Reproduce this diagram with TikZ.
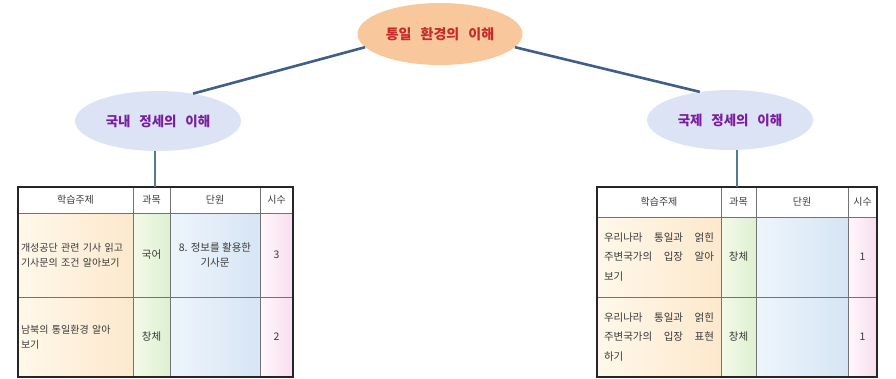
\documentclass[tikz,border=0pt]{standalone}
\usepackage{fontspec}
\setmainfont{Noto Sans CJK KR}
\usetikzlibrary{shapes.geometric}
\usetikzlibrary{positioning}
\definecolor{rootfill}{HTML}{F8C89C}
\definecolor{rootred}{HTML}{C62A2A}
\definecolor{subfill}{HTML}{DCE3F5}
\definecolor{subpurple}{HTML}{7A1FA0}
\definecolor{linkblue}{HTML}{3F5F88}
\definecolor{stemblue}{HTML}{527A96}
\definecolor{cellink}{HTML}{3A3A3A}
\definecolor{topicL}{HTML}{FFF8EA}
\definecolor{topicR}{HTML}{FDE8CD}
\definecolor{subjL}{HTML}{F4FAE8}
\definecolor{subjR}{HTML}{DDF0D2}
\definecolor{unitL}{HTML}{EEF5FC}
\definecolor{unitR}{HTML}{D6E5F4}
\definecolor{hourL}{HTML}{FFF7FB}
\definecolor{hourR}{HTML}{F8DDEF}
\newcommand{\widewords}{\spaceskip=0.65em\relax}
\tikzset{
    every node/.style={font=\fontsize{10.5}{15}\selectfont, text=cellink},
    main topic/.style={ellipse, fill=rootfill, text=rootred, minimum width=165pt, minimum height=62pt, font={\fontsize{14}{16}\selectfont\bfseries\widewords}},
    sub topic/.style={ellipse, fill=subfill, text=subpurple, minimum width=166pt, minimum height=60pt, font={\fontsize{13.5}{16}\selectfont\bfseries\widewords}},
    link/.style={draw=linkblue, line width=2.6pt},
    stem/.style={draw=stemblue, line width=2pt},
    cell/.style={draw=black!55, line width=0.5pt, inner sep=0pt, outer sep=0pt, align=center},
    head cell/.style={cell, fill=white, font=\fontsize{10}{12}\selectfont},
    topic cell/.style={cell, left color=topicL, right color=topicR, align=left, inner xsep=3pt, font=\fontsize{10}{15}\selectfont},
    wide topic/.style={topic cell, inner xsep=7pt, font=\fontsize{10.5}{19.5}\selectfont},
    subj cell/.style={cell, left color=subjL, right color=subjR},
    unit cell/.style={cell, left color=unitL, right color=unitR},
    hour cell/.style={cell, left color=hourL, right color=hourR},
    frame/.style={draw=black!85, line width=1.5pt}
}
\begin{document}
\begin{tikzpicture}[x=1pt, y=-1pt, node distance=0pt]
    \useasboundingbox (0,0) rectangle (896,378);

    % topic ellipses
    \node[main topic] (root) at (440,34) {통일 환경의 이해};
    \node[sub topic] (dom) at (158,121) {국내 정세의 이해};
    \node[sub topic] (intl) at (730,120) {국제 정세의 이해};

    \draw[link] (root.190) -- (dom.38);
    \draw[link] (root.-10) -- (intl.137);

    % left table
    \node[head cell, minimum width=115pt, minimum height=26pt, anchor=north west] (dh1) at (18,187) {학습주제};
    \node[head cell, minimum width=37pt, minimum height=26pt, right=of dh1] (dh2) {과목};
    \node[head cell, minimum width=90pt, minimum height=26pt, right=of dh2] (dh3) {단원};
    \node[head cell, minimum width=33pt, minimum height=26pt, right=of dh3] (dh4) {시수};

    \node[topic cell, text width=109pt, minimum height=84pt, below=of dh1] (d11) {개성공단 관련 기사 읽고\\기사문의 조건 알아보기};
    \node[subj cell, minimum width=37pt, minimum height=84pt, right=of d11] (d12) {국어};
    \node[unit cell, minimum width=90pt, minimum height=84pt, right=of d12] (d13) {8. 정보를 활용한\\기사문};
    \node[hour cell, minimum width=33pt, minimum height=84pt, right=of d13] (d14) {3};

    \node[topic cell, text width=109pt, minimum height=80pt, below=of d11] (d21) {남북의 통일환경 알아\\보기};
    \node[subj cell, minimum width=37pt, minimum height=80pt, right=of d21] (d22) {창체};
    \node[unit cell, minimum width=90pt, minimum height=80pt, right=of d22] (d23) {};
    \node[hour cell, minimum width=33pt, minimum height=80pt, right=of d23] (d24) {2};

    \draw[frame] (dh1.north west) rectangle (d24.south east);

    % right table
    \node[head cell, minimum width=124pt, minimum height=30pt, anchor=north west] (ih1) at (597,187) {학습주제};
    \node[head cell, minimum width=35pt, minimum height=30pt, right=of ih1] (ih2) {과목};
    \node[head cell, minimum width=92pt, minimum height=30pt, right=of ih2] (ih3) {단원};
    \node[head cell, minimum width=29pt, minimum height=30pt, right=of ih3] (ih4) {시수};

    \node[wide topic, text width=110pt, minimum height=80pt, below=of ih1] (i11) {우리나라\hfill 통일과\hfill 얽힌\\주변국가의\hfill 입장\hfill 알아\\보기};
    \node[subj cell, minimum width=35pt, minimum height=80pt, right=of i11] (i12) {창체};
    \node[unit cell, minimum width=92pt, minimum height=80pt, right=of i12] (i13) {};
    \node[hour cell, minimum width=29pt, minimum height=80pt, right=of i13] (i14) {1};

    \node[wide topic, text width=110pt, minimum height=80pt, below=of i11] (i21) {우리나라\hfill 통일과\hfill 얽힌\\주변국가의\hfill 입장\hfill 표현\\하기};
    \node[subj cell, minimum width=35pt, minimum height=80pt, right=of i21] (i22) {창체};
    \node[unit cell, minimum width=92pt, minimum height=80pt, right=of i22] (i23) {};
    \node[hour cell, minimum width=29pt, minimum height=80pt, right=of i23] (i24) {1};

    \draw[frame] (ih1.north west) rectangle (i24.south east);

    % stems from ellipses to tables
    \coordinate (dtop) at (155,187);
    \coordinate (itop) at (737,187);
    \draw[stem] (dom.south -| dtop) -- (dtop);
    \draw[stem] (intl.south -| itop) -- (itop);

\end{tikzpicture}
\end{document}
